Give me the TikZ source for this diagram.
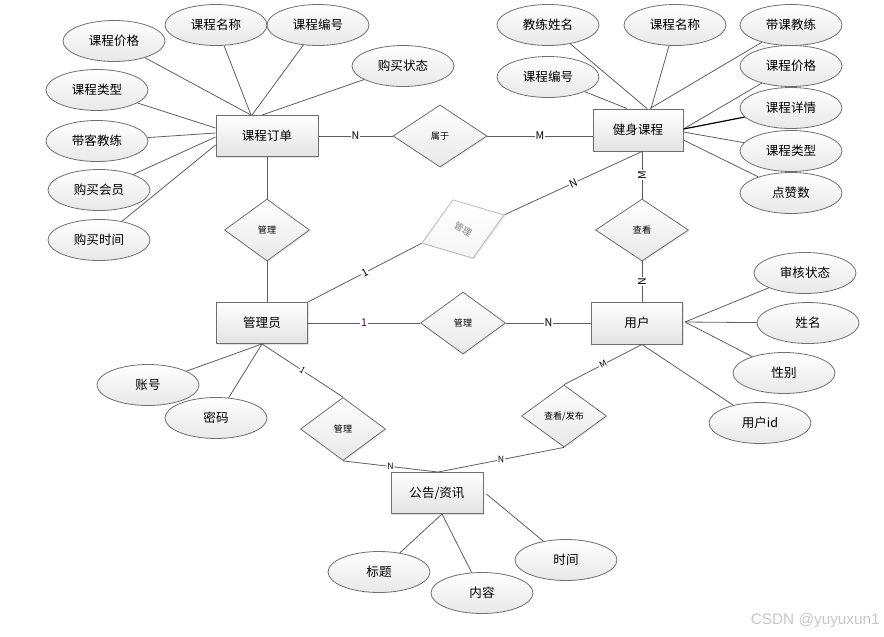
\documentclass[tikz,border=0pt]{standalone}
\usepackage{fontspec}
\setmainfont{Noto Sans CJK SC}
\newfontfamily\wmfont{Liberation Sans}
\usetikzlibrary{shapes.geometric,shadows,calc}
\definecolor{lc}{HTML}{5E5E5E}
\definecolor{bc}{HTML}{6E6E6E}
\definecolor{onec}{RGB}{90,10,50}
\begin{document}
\begin{tikzpicture}[x=0.75pt,y=-0.75pt,
 ent/.style={rectangle,draw=bc,line width=0.7pt,top color=white,bottom color=gray!22,
   minimum width=68.25pt,minimum height=30.75pt,inner sep=0pt,font=\fontsize{9.4}{11}\selectfont,
   drop shadow={opacity=0.22,shadow xshift=1pt,shadow yshift=-1pt}},
 attr/.style={ellipse,draw=bc,line width=0.6pt,top color=white,bottom color=gray!18,
   minimum width=76.5pt,minimum height=30.75pt,inner sep=0pt,font=\fontsize{9.4}{11}\selectfont},
 rel/.style={diamond,draw=bc,line width=0.6pt,top color=white,bottom color=gray!18,
   inner sep=0pt,aspect=1.4,minimum width=63.75pt,minimum height=46.5pt,
   font=\fontsize{6.8}{8}\selectfont,
   drop shadow={opacity=0.15,shadow xshift=1pt,shadow yshift=-1pt}},
 ln/.style={draw=lc,line width=0.6pt},
 lbl/.style={fill=white,inner sep=0.6pt,font=\fontsize{8}{9}\selectfont}
]
\useasboundingbox (0,0) rectangle (884,636);

% entities
\node[ent,minimum width=76.5pt] (o1) at (267,136) {课程订单};
\node[ent,minimum width=67.5pt,minimum height=31.5pt] (c1) at (638,130) {健身课程};
\node[ent] (ad) at (262,323) {管理员};
\node[ent,minimum height=31.5pt] (us) at (637,323) {用户};
\node[ent,minimum width=69pt] (gg) at (437,493) {公告/资讯};

% relationships
\node[rel,minimum width=70.5pt] (r1) at (440,136) {属于};
\node[rel] (r2) at (267,230) {管理};
\node[rel,draw=gray!55,top color=white,bottom color=gray!8,text=gray,rotate=19,
  minimum width=65.25pt] (r3) at (463,229) {\rotatebox[origin=c]{-49}{管理}};
\node[rel] (r4) at (463,323) {管理};
\node[rel,minimum width=69.75pt] (r5) at (642,230) {查看};
\node[rel,minimum height=47.25pt] (r6) at (343,429) {管理};
\node[rel] (r7) at (564,416) {查看/发布};

% attributes of 课程订单
\node[attr] (a11) at (114,41) {课程价格};
\node[attr] (a12) at (216,25) {课程名称};
\node[attr] (a13) at (318,25) {课程编号};
\node[attr] (a14) at (403,66) {购买状态};
\node[attr] (a15) at (97,90) {课程类型};
\node[attr] (a16) at (97,141) {带客教练};
\node[attr] (a17) at (99,190) {购买会员};
\node[attr] (a18) at (99,240) {购买时间};

% attributes of 健身课程
\node[attr] (b1) at (548,25) {教练姓名};
\node[attr] (b2) at (548,77) {课程编号};
\node[attr] (b3) at (675,25) {课程名称};
\node[attr] (b4) at (791,25) {带课教练};
\node[attr] (b5) at (791,66) {课程价格};
\node[attr] (b6) at (791,108) {课程详情};
\node[attr] (b7) at (791,151) {课程类型};
\node[attr] (b8) at (791,193) {点赞数};

% attributes of 用户
\node[attr] (u1) at (805,273) {审核状态};
\node[attr] (u2) at (808,323) {姓名};
\node[attr] (u3) at (784,373) {性别};
\node[attr] (u4) at (760,423) {用户id};

% attributes of 管理员
\node[attr] (d1) at (148,385) {账号};
\node[attr] (d2) at (216,418) {密码};

% attributes of 公告/资讯
\node[attr] (g1) at (379,572) {标题};
\node[attr] (g2) at (482,593) {内容};
\node[attr] (g3) at (566,560) {时间};

% attribute connectors
\draw[ln] (a11) -- ($(o1.north)+(-16,0)$);
\draw[ln] (a12) -- ($(o1.north)+(-16,0)$);
\draw[ln] (a13) -- ($(o1.north)+(-15,0)$);
\draw[ln] (a14) -- ($(o1.north)+(-5,0)$);
\draw[ln] (a15) -- ($(o1.west)+(0,-8)$);
\draw[ln] (a16) -- ($(o1.west)+(0,-3)$);
\draw[ln] (a17) -- ($(o1.west)+(0,1)$);
\draw[ln] (a18) -- ($(o1.west)+(0,9)$);

\draw[ln] (b1) -- ($(c1.north)+(9,0)$);
\draw[ln] (b2) -- ($(c1.north)+(-11,0)$);
\draw[ln] (b3) -- ($(c1.north)+(13,0)$);
\draw[ln] (b4) -- ($(c1.north)+(12,0)$);
\draw[ln] (b5) -- ($(c1.east)+(0,-1)$);
\draw[draw=black,line width=0.9pt] (b6) -- ($(c1.east)+(0,-1)$);
\draw[ln] (b7) -- ($(c1.east)+(0,2)$);
\draw[ln] (b8) -- ($(c1.east)+(0,10)$);

\draw[ln] (u1) -- ($(us.east)+(2,-1)$);
\draw[ln] (u2) -- ($(us.east)+(2,-1)$);
\draw[ln] (u3) -- ($(us.east)+(2,-1)$);
\draw[ln] (u4) -- ($(us.south)+(5,0)$);

\draw[ln] (d1) -- (ad.south);
\draw[ln] (d2) -- (ad.south);

\draw[ln] (g1) -- ($(gg.south)+(5,0)$);
\draw[ln] (g2) -- ($(gg.south)+(5,0)$);
\draw[ln] (g3) -- ($(gg.east)+(3,1)$);

% relationship connectors
\draw[ln] (o1) -- node[lbl]{N} (r1);
\draw[ln] (r1.east) -- node[lbl]{M} (r1.east -| c1.west);
\draw[ln] (o1) -- (r2);
\draw[ln] (r2.south) -- (r2.south |- ad.north);
\draw[ln] ($(c1.south)+(4,0)$) -- node[lbl,sloped]{N} (r3.east);
\draw[ln] (r3.west) -- node[lbl,sloped]{1} (ad.north east);
\draw[ln] (r5.north) -- node[lbl,rotate=90]{M} (r5.north |- c1.south);
\draw[ln] (r5.south) -- node[lbl,rotate=90]{N} (r5.south |- us.north);
\draw[ln] (ad) -- node[lbl,text=onec]{1} (r4);
\draw[ln] (r4) -- node[lbl]{N} (us);
\draw[ln] (ad.south) -- node[lbl,sloped,font=\fontsize{6.5}{8}\selectfont]{1} (r6.north);
\draw[ln] (r6.south) -- node[lbl,font=\fontsize{6.5}{8}\selectfont]{N} ($(gg.north)+(1,0)$);
\draw[ln] (r7.south) -- node[lbl,font=\fontsize{6.5}{8}\selectfont]{N} ($(gg.north)+(1,0)$);
\draw[ln] ($(us.south)+(5,0)$) -- node[lbl,sloped,font=\fontsize{6.5}{8}\selectfont]{M} (r7.north);

% watermark
\node[anchor=east,text=gray!45,font=\wmfont\fontsize{11.5}{13}\selectfont,inner sep=0pt] (wm) at (880,621) {CSDN @yuyuxun1};
\end{tikzpicture}
\end{document}
